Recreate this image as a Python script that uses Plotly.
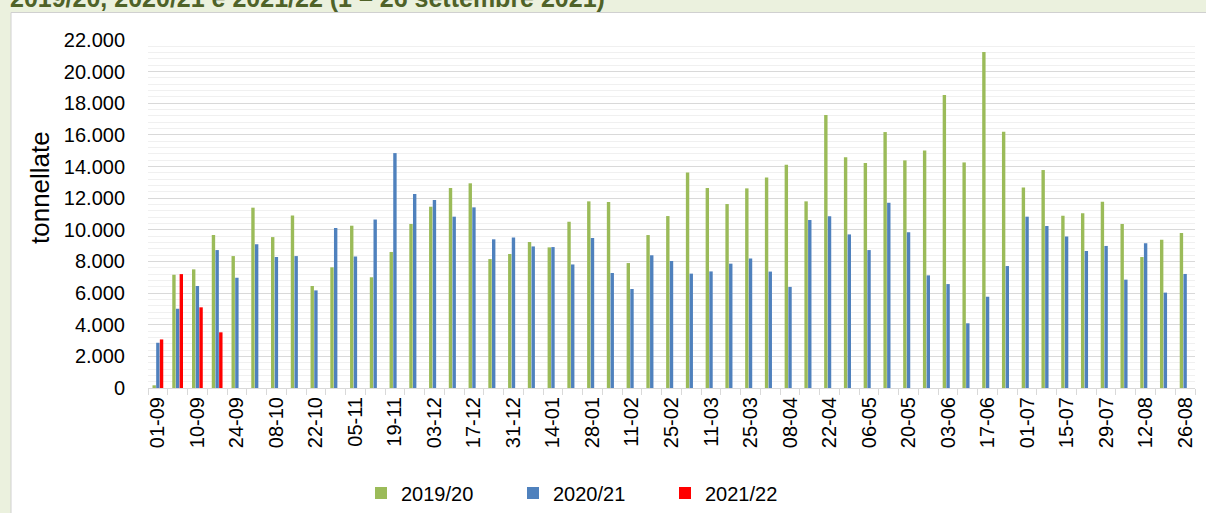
import plotly.graph_objects as go

weeks = ["01-09","03-09","10-09","17-09","24-09","01-10","08-10","15-10","22-10","29-10",
         "05-11","12-11","19-11","26-11","03-12","10-12","17-12","24-12","31-12","07-01",
         "14-01","21-01","28-01","04-02","11-02","18-02","25-02","04-03","11-03","18-03",
         "25-03","01-04","08-04","15-04","22-04","29-04","06-05","13-05","20-05","27-05",
         "03-06","10-06","17-06","24-06","01-07","08-07","15-07","22-07","29-07","05-08",
         "12-08","19-08","26-08"]

s2019_20 = [170, 7160, 7500, 9670, 8340, 11400, 9540, 10900, 6450, 7630,
            10260, 7000, 8600, 10370, 11460, 12640, 12940, 8150, 8470, 9230,
            8890, 10510, 11800, 11760, 7900, 9670, 10870, 13630, 12640, 11630,
            12620, 13300, 14120, 11800, 17260, 14580, 14220, 16180, 14390, 15020,
            18520, 14260, 21240, 16200, 12680, 13780, 10890, 11040, 11780, 10370,
            8280, 9380, 9800]

s2020_21 = [2860, 5010, 6450, 8720, 6970, 9080, 8280, 8340, 6170, 10110,
            8320, 10650, 14850, 12260, 11880, 10830, 11420, 9400, 9520, 8950,
            8910, 7810, 9480, 7270, 6260, 8390, 8030, 7230, 7370, 7860,
            8180, 7360, 6390, 10620, 10850, 9710, 8720, 11710, 9840, 7120,
            6570, 4090, 5770, 7710, 10830, 10240, 9570, 8660, 8980, 6850,
            9150, 6030, 7210]

s2021_22 = [3070, 7200, 5100, 3520] + [None] * 49

series = [("2019/20", s2019_20, "#9BBB59"),
          ("2020/21", s2020_21, "#4F81BD"),
          ("2021/22", s2021_22, "#FF0000")]

title_text = "2019/20, 2020/21 e 2021/22 (1 – 26 settembre 2021)"

W, H = 1206, 513
L, R, T, B = 148, 11, 40, 125
pw, ph = W - L - R, H - T - B

def px_x(p):
    return (p - L) / pw

def px_y(p):
    return (H - B - p) / ph

fig = go.Figure()
for name, vals, col in series:
    fig.add_trace(go.Bar(x=weeks, y=vals, name=name, marker_color=col,
                         marker_line_width=0))

FONT = "Liberation Sans, Arial, sans-serif"

fig.update_layout(
    width=W, height=H,
    margin=dict(l=L, r=R, t=T, b=B, autoexpand=False),
    paper_bgcolor="#EBF1DE",
    plot_bgcolor="rgba(0,0,0,0)",
    separators=",.",
    barmode="group",
    bargap=0.44,
    bargroupgap=0.08,
    font=dict(family=FONT, size=20, color="#000000"),
    showlegend=True,
    legend=dict(orientation="h", x=px_x(361), xanchor="left",
                y=px_y(493), yanchor="middle",
                entrywidth=107, entrywidthmode="pixels",
                font=dict(size=20), bgcolor="rgba(0,0,0,0)",
                traceorder="normal"),
    xaxis=dict(type="category", tickmode="array", tickvals=weeks,
               ticktext=[w if i % 2 == 0 else "" for i, w in enumerate(weeks)],
               tickson="boundaries", ticks="outside", ticklen=6,
               tickcolor="#D9D9D9", tickangle=-90,
               showline=True, linecolor="#D9D9D9", linewidth=1,
               showgrid=False, zeroline=False,
               tickfont=dict(size=20)),
    yaxis=dict(range=[0, 22000], dtick=2000, tickformat=",.0f",
               showgrid=True, gridcolor="#D9D9D9", gridwidth=1,
               minor=dict(dtick=400, showgrid=True, gridcolor="#F0F0F0", gridwidth=1),
               zeroline=False, showline=False,
               ticks="outside", ticklen=18, tickcolor="rgba(0,0,0,0)",
               tickfont=dict(size=20)),
    shapes=[dict(type="rect", xref="paper", yref="paper",
                 x0=px_x(11), x1=px_x(W + 5), y0=px_y(H + 5), y1=px_y(12.5),
                 fillcolor="#FFFFFF", line=dict(color="#D0D0D0", width=1),
                 layer="below")],
    annotations=[
        dict(text="tonnellate", xref="paper", yref="paper",
             x=px_x(40), y=px_y(188), xanchor="center", yanchor="middle",
             textangle=-90, showarrow=False, font=dict(size=26, color="#000000")),
        dict(text="<b>" + title_text + "</b>", xref="paper", yref="paper",
             x=px_x(8), y=px_y(14), xanchor="left", yanchor="bottom",
             showarrow=False, font=dict(size=25, color="#4F6228")),
    ],
)

fig.write_html("out.html",
               config={"displayModeBar": False},
               post_script="document.body.style.margin='0';document.body.style.overflow='hidden';")
